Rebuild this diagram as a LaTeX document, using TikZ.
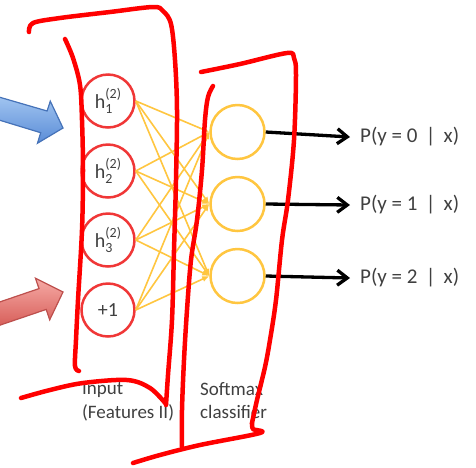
\documentclass[tikz,border=0pt]{standalone}
\usepackage{fontspec}
\setmainfont{Carlito}
\usetikzlibrary{arrows.meta}
\definecolor{inred}{RGB}{240,55,55}
\definecolor{softy}{RGB}{255,198,64}
\definecolor{txt}{RGB}{64,64,64}
\definecolor{pen}{RGB}{255,0,0}
\definecolor{bluelt}{RGB}{160,196,240}
\definecolor{bluedk}{RGB}{90,140,215}
\definecolor{blueln}{RGB}{70,115,185}
\definecolor{pinklt}{RGB}{246,170,165}
\definecolor{pinkdk}{RGB}{215,95,90}
\definecolor{pinkln}{RGB}{190,80,77}
\newcommand{\hlab}[1]{h\rlap{\raisebox{-5pt}{\fontsize{14}{14}\selectfont #1}}\raisebox{9.5pt}{\fontsize{14}{14}\selectfont (2)}}
\tikzset{
  innode/.style={circle, draw=inred, line width=2.5pt, minimum size=53pt, inner sep=0pt, text=txt, font=\fontsize{20}{24}\selectfont},
  outnode/.style={circle, draw=softy, line width=2.5pt, minimum size=54pt, inner sep=0pt},
  wire/.style={draw=softy, line width=1.6pt, -{Latex[length=7pt,width=6pt]}},
  outarrow/.style={draw=black, line width=3.3pt, -{Straight Barb[length=10pt,width=15pt]}},
  plabel/.style={anchor=west, inner sep=0pt, text=txt, font=\fontsize{21}{25}\selectfont},
  caption/.style={anchor=base west, inner sep=0pt, text=txt, font=\fontsize{19}{24}\selectfont},
  pen/.style={draw=pen, line width=4.5pt, line cap=round, line join=round}
}
\begin{document}
\begin{tikzpicture}[x=1pt,y=-1pt]
\useasboundingbox (0,0) rectangle (476,467);
\fill[white] (0,0) rectangle (476,467);
% block arrows
\begin{scope}
\clip (0,0) rectangle (476,467);
\filldraw[draw=blueln, line width=1.2pt, top color=bluelt, bottom color=bluedk]
  (-8.2,117.8) -- (40.7,132.7) -- (37.5,143.2) -- (63,128) -- (50.3,101.2) -- (47.1,111.0) -- (-1.8,96.8) -- cycle;
\filldraw[draw=pinkln, line width=1.2pt, top color=pinklt, bottom color=pinkdk]
  (-1.4,325.6) -- (46.2,309.4) -- (49.7,319.8) -- (63,292) -- (35.5,278.2) -- (39.0,288.6) -- (-8.6,304.8) -- cycle;
\end{scope}
% input nodes
\node[innode] (h1) at (108,101) {\hlab{1}};
\node[innode] (h2) at (108,171) {\hlab{2}};
\node[innode] (h3) at (108,240) {\hlab{3}};
\node[innode] (b) at (108,310) {+1};
% output nodes
\node[outnode] (o1) at (237.5,132) {};
\node[outnode] (o2) at (237.5,204) {};
\node[outnode] (o3) at (237.5,276) {};
% wires
\foreach \s in {h1,h2,h3,b}{
  \foreach \t in {o1,o2,o3}{
    \draw[wire] (\s.east) -- (\t.west);
  }
}
% outputs
\node[plabel] (p0) at (360,137) {P(y = 0 \,|\, x)};
\node[plabel] (p1) at (360,205) {P(y = 1 \,|\, x)};
\node[plabel] (p2) at (360,278) {P(y = 2 \,|\, x)};
\draw[outarrow] (o1.east) -- (p0.west -| 350,0);
\draw[outarrow] (o2.east) -- (p1.west -| 350,0);
\draw[outarrow] (o3.east) -- (p2.west -| 350,0);
% captions
\node[caption] (in1) at (82,394) {Input};
\node[caption] (in2) at (82,418) {(Features II)};
\node[caption] (sm1) at (200,395) {Softmax};
\node[caption] (sm2) at (200,418) {classifier};
% red pen strokes
\draw[pen] plot[smooth, tension=0.55] coordinates {(29,32) (33,23) (60,18) (110,12) (153,7) (163,11) (171,24) (175,60) (177,110) (176,180) (174,250) (172,320) (168,375) (166,405)};
\draw[pen] plot[smooth, tension=0.55] coordinates {(65,39) (73,58) (80,85) (82,120) (83,170) (82,230) (78,300) (76,340) (75,366) (79,371)};
\draw[pen] plot[smooth, tension=0.55] coordinates {(21,398) (50,390) (83,383) (127,380) (150,388) (166,404)};
\draw[pen] plot[smooth, tension=0.55] coordinates {(201,72) (240,64) (287,53) (294,58) (296,75) (294,140) (288,200) (282,240) (276,300) (270,340) (265,367) (257,400) (252,423)};
\draw[pen] plot[smooth, tension=0.55] coordinates {(252,423) (253,429) (260,433) (200,445) (160,455) (133,463)};
\draw[pen] plot[smooth, tension=0.55] coordinates {(213,86) (208,97) (205,120) (202,170) (197,220) (191,260) (187,310) (184,360) (182,410) (182,447)};
\end{tikzpicture}
\end{document}
